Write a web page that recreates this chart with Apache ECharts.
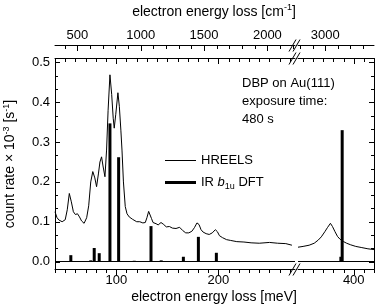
<!DOCTYPE html>
<html><head><meta charset="utf-8">
<script src="https://cdn.jsdelivr.net/npm/echarts@6/dist/echarts.min.js"></script>
<style>html,body{margin:0;padding:0;background:#fff}#c{width:377px;height:308px}</style>
</head><body><div id="c"></div>
<script>
// HREELS spectrum, low-energy segment [meV, count rate x1e-3 s^-1]
const hreelsLow = [
 [40,0.125],[42,0.11],[44,0.104],[47,0.1],[50,0.105],[52,0.13],[54,0.171],[56,0.15],[58,0.125],
 [60,0.118],[62,0.12],[64,0.112],[66,0.102],[68.5,0.096],[71,0.11],[73,0.14],[75,0.2],[77,0.226],
 [79,0.21],[80.7,0.188],[82.5,0.22],[84,0.25],[85.6,0.263],[87,0.24],[88.9,0.213],[90.5,0.28],
 [92,0.38],[93.8,0.469],[95.5,0.42],[97,0.36],[98,0.335],[99.5,0.37],[101.6,0.424],[103,0.39],
 [104.5,0.33],[105.6,0.28],[107,0.2],[108.8,0.138],[110.5,0.12],[112.7,0.112],[116,0.106],
 [120,0.1],[123,0.1],[126,0.097],[128.4,0.098],[130,0.11],[131.7,0.126],[133,0.122],[134.5,0.108],
 [136,0.098],[139,0.095],[141,0.092],[143.8,0.098],[146,0.094],[149,0.087],[152,0.088],[155,0.084],
 [158.5,0.083],[162,0.086],[165,0.078],[168,0.072],[171,0.072],[174,0.076],[176.5,0.085],[179,0.097],
 [181,0.093],[183,0.08],[185,0.074],[188,0.07],[191,0.068],[194,0.072],[197,0.08],[199,0.075],
 [201,0.065],[204,0.06],[208,0.055],[212,0.053],[218,0.05],[225,0.049],[232,0.047],[240,0.046],
 [250,0.048],[258,0.046],[266,0.045],[272,0.041]
];
// HREELS spectrum, high-energy segment
const hreelsHigh = [
 [345,0.036],[350,0.038],[356,0.041],[361,0.046],[365,0.054],[368,0.062],[371.5,0.075],[374,0.085],
 [377,0.096],[379,0.088],[381.5,0.075],[384,0.063],[386.5,0.056],[390,0.05],[393,0.046],[397,0.042],
 [402,0.038],[408,0.035],[414,0.032],[420,0.03]
];
// IR b1u DFT sticks [meV, intensity]
const dftLow = [
 [55.5,0.016],[75,0.003],[78.4,0.034],[83.3,0.021],[93.8,0.347],[102.3,0.262],[117.6,0.002],
 [134,0.089],[144,0.003],[165.7,0.012],[180.4,0.062],[198,0.022]
];
const dftHigh = [[387.3,0.012],[388.6,0.33]];

// axis ranges and tick values
const lowRange = [40, 275];
const highRange = [345, 420];
const yRange = [-0.02, 0.51];
const yTicks = [0, 0.1, 0.2, 0.3, 0.4, 0.5];
const meVTicksLow = [100, 200];
const meVTicksHigh = [400];
const cmTicksLow = [500, 1000, 1500, 2000];
const cmTicksHigh = [3000];
const MEV2CM = 8.0655;

function seq(a, b, step) { const r = []; const n = Math.round((b - a) / step); for (let k = 0; k <= n; k++) r.push(a + k * step); return r; }
const isMult = (v, m) => Math.abs(v / m - Math.round(v / m)) < 1e-6;
const yMinor = seq(0, 0.5, 0.1 / 3).filter(v => !isMult(v, 0.1));
const meVMinorLow = seq(40, 270, 10).filter(v => !isMult(v, 100));
const meVMinorHigh = seq(350, 420, 10).filter(v => !isMult(v, 100));
const cmMinorLow = seq(400, 2200, 100).filter(v => !isMult(v, 500) && v >= lowRange[0] * MEV2CM && v <= lowRange[1] * MEV2CM);
const cmMinorHigh = seq(2800, 3300, 100).filter(v => !isMult(v, 500) && v >= highRange[0] * MEV2CM && v <= highRange[1] * MEV2CM);

const FONT = 'Liberation Sans';
const black = '#000';
const CM_OFFSET = 13;
const GRIDS = [
  { left: 55, top: 58.5, width: 240, height: 211, containLabel: false, outerBoundsMode: 'none' },
  { left: 298, top: 58.5, width: 76, height: 211, containLabel: false, outerBoundsMode: 'none' }
];

function xAx(grid, pos, offset, min, max, labels) {
  return {
    type: 'value', gridIndex: grid, position: pos, offset: offset, min: min, max: max,
    axisLine: { show: true, onZero: false, lineStyle: { color: black, width: 1 } },
    axisTick: { show: false },
    axisLabel: labels ? { show: true, customValues: labels, color: black, fontFamily: FONT, fontSize: 13, margin: 4,
      formatter: v => String(v) } : { show: false },
    splitLine: { show: false }
  };
}
const xAxes = [
  xAx(0, 'bottom', 0, lowRange[0], lowRange[1], meVTicksLow),                                     // 0 data
  xAx(0, 'top', 0, lowRange[0], lowRange[1], null),                                               // 1 frame top
  xAx(0, 'top', CM_OFFSET, lowRange[0] * MEV2CM, lowRange[1] * MEV2CM, cmTicksLow),               // 2 cm
  xAx(1, 'bottom', 0, highRange[0], highRange[1], meVTicksHigh),                                  // 3 data
  xAx(1, 'top', 0, highRange[0], highRange[1], null),                                             // 4
  xAx(1, 'top', CM_OFFSET, highRange[0] * MEV2CM, highRange[1] * MEV2CM, cmTicksHigh)             // 5
];

const yAxes = [
  { type: 'value', gridIndex: 0, position: 'left', min: yRange[0], max: yRange[1],
    axisLine: { show: true, onZero: false, lineStyle: { color: black, width: 1 } },
    axisTick: { show: false },
    axisLabel: { show: true, customValues: yTicks, color: black, fontFamily: FONT, fontSize: 13, margin: 5,
      formatter: v => v.toFixed(1) },
    splitLine: { show: false },
    name: 'count rate × 10{sup|-3} [s{sup|-1}]', nameLocation: 'middle', nameGap: 36, nameRotate: 90,
    nameTextStyle: { color: black, fontFamily: FONT, fontSize: 14,
      rich: { sup: { fontSize: 9, fontFamily: FONT, color: black, padding: [0, 0, 8, 0] } } } },
  { type: 'value', gridIndex: 1, position: 'right', min: yRange[0], max: yRange[1],
    axisLine: { show: true, onZero: false, lineStyle: { color: black, width: 1 } },
    axisTick: { show: false }, axisLabel: { show: false }, splitLine: { show: false } }
];

// Tick marks as a custom series, placed through the axes' scales (api.coord)
function tickSeries(xIdx, yIdx, side, values, len, cm) {
  const isX = side !== 'left' && side !== 'right';
  const xmin = xIdx === 0 ? lowRange[0] : highRange[0];
  return {
    type: 'custom', xAxisIndex: xIdx, yAxisIndex: yIdx, clip: false, z: 20,
    data: values.map(v => isX ? [cm ? v / MEV2CM : v, 0] : [xmin, v]),
    renderItem: (params, api) => {
      const cs = params.coordSys;
      const p = api.coord([api.value(0), api.value(1)]);
      let shape;
      if (isX) {
        const y0 = side === 'bottom' ? Math.round(cs.y + cs.height) : side === 'top' ? Math.round(cs.y) : Math.round(cs.y) - CM_OFFSET;
        shape = { x: Math.round(p[0]), y: y0, width: 1, height: len };
      } else {
        const y = Math.round(p[1]);
        shape = side === 'left' ? { x: Math.round(cs.x), y: y, width: len, height: 1 }
                                : { x: Math.round(cs.x + cs.width) - len, y: y, width: len, height: 1 };
      }
      return { type: 'rect', shape: shape, style: { fill: black } };
    }
  };
}

const lineStyle = { color: black, width: 1 };
const baseMark = { silent: true, symbol: 'none', label: { show: false }, data: [{ yAxis: 0 }],
  lineStyle: { color: black, width: 1, type: 'solid' }, emphasis: { disabled: true } };

const series = [
  { name: 'HREELS', type: 'line', xAxisIndex: 0, yAxisIndex: 0, data: hreelsLow, showSymbol: false, symbol: 'none',
    lineStyle: lineStyle, itemStyle: { color: black }, z: 3 },
  { name: 'HREELS', type: 'line', xAxisIndex: 3, yAxisIndex: 1, data: hreelsHigh, showSymbol: false, symbol: 'none',
    lineStyle: lineStyle, itemStyle: { color: black }, z: 3 },
  { name: 'DFT', type: 'bar', xAxisIndex: 0, yAxisIndex: 0, data: dftLow, barWidth: 3, itemStyle: { color: black },
    markLine: baseMark, z: 2 },
  { name: 'DFT', type: 'bar', xAxisIndex: 3, yAxisIndex: 1, data: dftHigh, barWidth: 3, itemStyle: { color: black },
    markLine: baseMark, z: 2 },
  tickSeries(0, 0, 'bottom', meVTicksLow, 5), tickSeries(0, 0, 'bottom', meVMinorLow, 3),
  tickSeries(0, 0, 'top', meVTicksLow, 5), tickSeries(0, 0, 'top', meVMinorLow, 3),
  tickSeries(0, 0, 'cm', cmTicksLow, 5, true), tickSeries(0, 0, 'cm', cmMinorLow, 3, true),
  tickSeries(0, 0, 'left', yTicks, 5), tickSeries(0, 0, 'left', yMinor, 3),
  tickSeries(3, 1, 'bottom', meVTicksHigh, 5), tickSeries(3, 1, 'bottom', meVMinorHigh, 3),
  tickSeries(3, 1, 'top', meVTicksHigh, 5), tickSeries(3, 1, 'top', meVMinorHigh, 3),
  tickSeries(3, 1, 'cm', cmTicksHigh, 5, true), tickSeries(3, 1, 'cm', cmMinorHigh, 3, true),
  tickSeries(3, 1, 'right', yTicks, 5), tickSeries(3, 1, 'right', yMinor, 3)
];

const legendText = { color: black, fontFamily: FONT, fontSize: 13,
  rich: { i: { fontStyle: 'italic', fontFamily: FONT, fontSize: 13, color: black },
          s: { fontSize: 9, fontFamily: FONT, color: black, padding: [8, 0, 0, 0] } } };
const legends = [
  { data: ['HREELS'], left: 160, top: 149, orient: 'vertical', icon: 'rect', itemWidth: 31, itemHeight: 1,
    textStyle: legendText, selectedMode: false },
  { data: ['DFT'], left: 160, top: 171, orient: 'vertical', icon: 'rect', itemWidth: 31, itemHeight: 3,
    textStyle: legendText, selectedMode: false, formatter: () => 'IR {i|b}{s|1u} DFT' }
];

function brk(y) {
  return [
    { type: 'line', shape: { x1: 289, y1: y + 6, x2: 296, y2: y - 6 }, style: { stroke: black, lineWidth: 1 }, z: 100 },
    { type: 'line', shape: { x1: 293, y1: y + 6, x2: 300, y2: y - 6 }, style: { stroke: black, lineWidth: 1 }, z: 100 }
  ];
}
const titleRich = { sup: { fontSize: 9, fontFamily: FONT, fill: black, padding: [0, 0, 8, 0] } };
const graphics = [
  ...brk(45.5), ...brk(58.5), ...brk(269.5),
  { type: 'text', style: { text: 'electron energy loss [meV]', x: 214, y: 297, align: 'center', verticalAlign: 'middle',
      font: '14px "Liberation Sans"', fill: black } },
  { type: 'text', style: { text: 'electron energy loss [cm{sup|-1}]', x: 214, y: 12, align: 'center', verticalAlign: 'middle',
      font: '14px "Liberation Sans"', fill: black, rich: titleRich } },
  { type: 'text', style: { text: 'DBP on Au(111)\nexposure time:\n480 s', x: 242, y: 74, align: 'left', verticalAlign: 'top',
      font: '13px "Liberation Sans"', fill: black, lineHeight: 18 } }
];

const chart = echarts.init(document.getElementById('c'), null, { renderer: 'canvas' });
chart.setOption({
  animation: false,
  backgroundColor: '#fff',
  grid: GRIDS,
  xAxis: xAxes,
  yAxis: yAxes,
  legend: legends,
  series: series,
  graphic: graphics
});

// Same tick marks also as graphic rects (positions from the axes' scales via convertToPixel)
try {
  const tickEls = [];
  const px = (dim, idx, v) => {
    let r = chart.convertToPixel(dim === 'x' ? { xAxisIndex: idx } : { yAxisIndex: idx }, v);
    if (Array.isArray(r)) r = dim === 'x' ? r[0] : r[1];
    return r;
  };
  const addRect = (x, y, w, h) => tickEls.push({ type: 'rect', z: 200, shape: { x: x, y: y, width: w, height: h }, style: { fill: black } });
  const yBottom = Math.round(px('y', 0, yRange[0]));
  const yTop = Math.round(px('y', 0, yRange[1]));
  const yCm = yTop - CM_OFFSET;
  const xLeft = Math.round(px('x', 0, lowRange[0]));
  const xRight = Math.round(px('x', 3, highRange[1]));
  [[0, meVTicksLow, meVMinorLow], [3, meVTicksHigh, meVMinorHigh]].forEach(([ax, maj, mnr]) => {
    maj.forEach(v => { const x = Math.round(px('x', ax, v)); addRect(x, yBottom, 1, 5); addRect(x, yTop, 1, 5); });
    mnr.forEach(v => { const x = Math.round(px('x', ax, v)); addRect(x, yBottom, 1, 3); addRect(x, yTop, 1, 3); });
  });
  [[2, cmTicksLow, cmMinorLow], [5, cmTicksHigh, cmMinorHigh]].forEach(([ax, maj, mnr]) => {
    maj.forEach(v => addRect(Math.round(px('x', ax, v)), yCm, 1, 5));
    mnr.forEach(v => addRect(Math.round(px('x', ax, v)), yCm, 1, 3));
  });
  yTicks.forEach(v => { const y = Math.round(px('y', 0, v)); addRect(xLeft, y, 5, 1); addRect(xRight - 5, y, 5, 1); });
  yMinor.forEach(v => { const y = Math.round(px('y', 0, v)); addRect(xLeft, y, 3, 1); addRect(xRight - 3, y, 3, 1); });
  if (tickEls.every(e => isFinite(e.shape.x) && isFinite(e.shape.y))) chart.setOption({ graphic: graphics.concat(tickEls) });
} catch (e) { /* custom-series ticks remain */ }
</script></body></html>
